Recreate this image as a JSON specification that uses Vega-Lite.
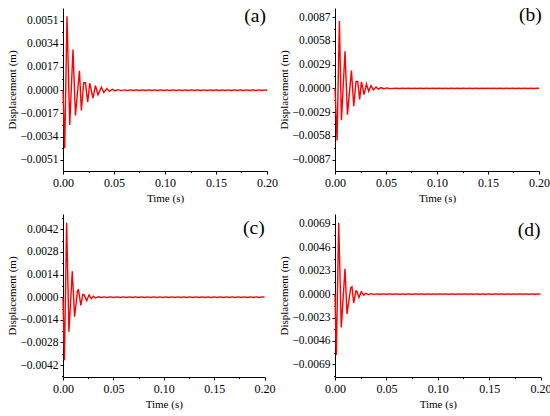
{
  "$schema": "https://vega.github.io/schema/vega-lite/v6.json",
  "background": "white",
  "padding": {"left": 6, "top": 5, "right": 5, "bottom": 5},
  "datasets": {
    "disp": [
      {"p":"a","t":0,"d":0},
      {"p":"a","t":0.0017,"d":-0.00425},
      {"p":"a","t":0.0039,"d":0.00542},
      {"p":"a","t":0.0066,"d":-0.00254},
      {"p":"a","t":0.0098,"d":0.00298},
      {"p":"a","t":0.0122,"d":-0.00185},
      {"p":"a","t":0.0161,"d":0.00142},
      {"p":"a","t":0.018,"d":-0.00149},
      {"p":"a","t":0.0203,"d":0.00054},
      {"p":"a","t":0.022,"d":0.00054},
      {"p":"a","t":0.0242,"d":-0.00088},
      {"p":"a","t":0.0262,"d":0.00051},
      {"p":"a","t":0.0294,"d":-0.00059},
      {"p":"a","t":0.0318,"d":0.00034},
      {"p":"a","t":0.0343,"d":-0.00034},
      {"p":"a","t":0.0376,"d":0.00022},
      {"p":"a","t":0.04,"d":-0.00017},
      {"p":"a","t":0.043,"d":0.00012},
      {"p":"a","t":0.0455,"d":-0.00009},
      {"p":"a","t":0.0485,"d":0.00007},
      {"p":"a","t":0.051,"d":-0.00005},
      {"p":"a","t":0.054,"d":0.00004},
      {"p":"a","t":0.057,"d":-0.00003},

      {"p":"b","t":0,"d":0},
      {"p":"b","t":0.002,"d":-0.00636},
      {"p":"b","t":0.0043,"d":0.0082},
      {"p":"b","t":0.0063,"d":-0.0039},
      {"p":"b","t":0.0098,"d":0.00453},
      {"p":"b","t":0.0122,"d":-0.00322},
      {"p":"b","t":0.0161,"d":0.00216},
      {"p":"b","t":0.0184,"d":-0.0022},
      {"p":"b","t":0.0206,"d":0.00082},
      {"p":"b","t":0.0223,"d":0.00082},
      {"p":"b","t":0.0242,"d":-0.00135},
      {"p":"b","t":0.0259,"d":0.00078},
      {"p":"b","t":0.0285,"d":-0.00077},
      {"p":"b","t":0.0308,"d":0.00053},
      {"p":"b","t":0.0331,"d":-0.00037},
      {"p":"b","t":0.0353,"d":0.00033},
      {"p":"b","t":0.0376,"d":-0.0002},
      {"p":"b","t":0.0402,"d":0.00015},
      {"p":"b","t":0.0425,"d":-0.0001},
      {"p":"b","t":0.045,"d":0.00008},
      {"p":"b","t":0.048,"d":-0.00006},
      {"p":"b","t":0.051,"d":0.00005},
      {"p":"b","t":0.054,"d":-0.00004},

      {"p":"c","t":0,"d":0},
      {"p":"c","t":0.0014,"d":-0.0039},
      {"p":"c","t":0.0036,"d":0.00461},
      {"p":"c","t":0.0059,"d":-0.00214},
      {"p":"c","t":0.0092,"d":0.00161},
      {"p":"c","t":0.0115,"d":-0.00121},
      {"p":"c","t":0.0144,"d":0.00041},
      {"p":"c","t":0.0154,"d":0.00046},
      {"p":"c","t":0.0177,"d":-0.0005},
      {"p":"c","t":0.0196,"d":0.00017},
      {"p":"c","t":0.021,"d":0.00014},
      {"p":"c","t":0.0235,"d":-0.00022},
      {"p":"c","t":0.0259,"d":0.00015},
      {"p":"c","t":0.028,"d":-0.00009},
      {"p":"c","t":0.0302,"d":0.00006},
      {"p":"c","t":0.0325,"d":-0.00005},
      {"p":"c","t":0.035,"d":0.00003},
      {"p":"c","t":0.038,"d":-0.00002},
      {"p":"c","t":0.041,"d":0.00002},
      {"p":"c","t":0.044,"d":-0.00002},
      {"p":"c","t":0.047,"d":0.00002},
      {"p":"c","t":0.05,"d":-0.00002},
      {"p":"c","t":0.054,"d":0.00002},
      {"p":"c","t":0.057,"d":-0.00002},

      {"p":"d","t":0,"d":0},
      {"p":"d","t":0.0013,"d":-0.00597},
      {"p":"d","t":0.0036,"d":0.00698},
      {"p":"d","t":0.0061,"d":-0.00328},
      {"p":"d","t":0.0097,"d":0.00249},
      {"p":"d","t":0.0117,"d":-0.00194},
      {"p":"d","t":0.0153,"d":0.00062},
      {"p":"d","t":0.0165,"d":0.00072},
      {"p":"d","t":0.0182,"d":-0.00086},
      {"p":"d","t":0.0204,"d":0.00032},
      {"p":"d","t":0.0215,"d":0.00025},
      {"p":"d","t":0.0233,"d":-0.00033},
      {"p":"d","t":0.0256,"d":0.00023},
      {"p":"d","t":0.028,"d":-0.0001},
      {"p":"d","t":0.03,"d":0.00008},
      {"p":"d","t":0.0325,"d":-0.00005},
      {"p":"d","t":0.035,"d":0.00004},
      {"p":"d","t":0.038,"d":-0.00003},
      {"p":"d","t":0.041,"d":0.00002},
      {"p":"d","t":0.044,"d":-0.00002},
      {"p":"d","t":0.047,"d":0.00002},
      {"p":"d","t":0.05,"d":-0.00002},
      {"p":"d","t":0.054,"d":0.00002},
      {"p":"d","t":0.057,"d":-0.00002},

      {"p":"all","t":0.060,"d":0.00002},
      {"p":"all","t":0.063,"d":-0.00002},
      {"p":"all","t":0.066,"d":0.00002},
      {"p":"all","t":0.069,"d":-0.00002},
      {"p":"all","t":0.072,"d":0.00002},
      {"p":"all","t":0.075,"d":-0.00002},
      {"p":"all","t":0.078,"d":0.00002},
      {"p":"all","t":0.081,"d":-0.00002},
      {"p":"all","t":0.084,"d":0.00002},
      {"p":"all","t":0.087,"d":-0.00002},
      {"p":"all","t":0.090,"d":0.00002},
      {"p":"all","t":0.093,"d":-0.00002},
      {"p":"all","t":0.096,"d":0.00002},
      {"p":"all","t":0.099,"d":-0.00002},
      {"p":"all","t":0.102,"d":0.00002},
      {"p":"all","t":0.105,"d":-0.00002},
      {"p":"all","t":0.108,"d":0.00002},
      {"p":"all","t":0.111,"d":-0.00002},
      {"p":"all","t":0.114,"d":0.00002},
      {"p":"all","t":0.117,"d":-0.00002},
      {"p":"all","t":0.120,"d":0.00002},
      {"p":"all","t":0.123,"d":-0.00002},
      {"p":"all","t":0.126,"d":0.00002},
      {"p":"all","t":0.129,"d":-0.00002},
      {"p":"all","t":0.132,"d":0.00002},
      {"p":"all","t":0.135,"d":-0.00002},
      {"p":"all","t":0.138,"d":0.00002},
      {"p":"all","t":0.141,"d":-0.00002},
      {"p":"all","t":0.144,"d":0.00002},
      {"p":"all","t":0.147,"d":-0.00002},
      {"p":"all","t":0.150,"d":0.00002},
      {"p":"all","t":0.153,"d":-0.00002},
      {"p":"all","t":0.156,"d":0.00002},
      {"p":"all","t":0.159,"d":-0.00002},
      {"p":"all","t":0.162,"d":0.00002},
      {"p":"all","t":0.165,"d":-0.00002},
      {"p":"all","t":0.168,"d":0.00002},
      {"p":"all","t":0.171,"d":-0.00002},
      {"p":"all","t":0.174,"d":0.00002},
      {"p":"all","t":0.177,"d":-0.00002},
      {"p":"all","t":0.180,"d":0.00002},
      {"p":"all","t":0.183,"d":-0.00002},
      {"p":"all","t":0.186,"d":0.00002},
      {"p":"all","t":0.189,"d":-0.00002},
      {"p":"all","t":0.192,"d":0.00002},
      {"p":"all","t":0.195,"d":-0.00002},
      {"p":"all","t":0.198,"d":0.00002},
      {"p":"all","t":0.200,"d":0}
    ],
    "lab": [
      {"p":"a","t":0.1884,"d":0.00547,"l":"(a)"},
      {"p":"b","t":0.1915,"d":0.00893,"l":"(b)"},
      {"p":"c","t":0.1894,"d":0.0043,"l":"(c)"},
      {"p":"d","t":0.189,"d":0.00632,"l":"(d)"}
    ]
  },
  "config": {
    "font": "Liberation Serif",
    "view": {"stroke": null},
    "axis": {
      "grid": false,
      "labelFont": "Liberation Serif",
      "labelFontSize": 11.5,
      "labelColor": "black",
      "titleFont": "Liberation Serif",
      "titleFontSize": 11,
      "titleFontWeight": "normal",
      "titleColor": "black",
      "domainColor": "black",
      "domainWidth": 1,
      "tickColor": "black",
      "tickWidth": 1,
      "labelFlush": false,
      "labelOverlap": false,
      "labelPadding": 2
    },
    "axisX": {"titlePadding": 4, "labelPadding": 3, "labelFontSize": 12, "titleFontWeight": "normal"},
    "axisY": {"titlePadding": 2, "titleFontWeight": "normal"}
  },
  "spacing": 9,
  "vconcat": [
    {
      "spacing": 0,
      "hconcat": [
        {
          "width": 204, "height": 163,
          "encoding": {
            "x": {"field": "t", "type": "quantitative", "scale": {"domain": [0, 0.2], "nice": false},
              "axis": {"title": "Time (s)", "format": ".2f", "titleFontWeight": "normal",
                "values": [0,0.025,0.05,0.075,0.1,0.125,0.15,0.175,0.2],
                "labelExpr": "abs(datum.value*20 - round(datum.value*20)) < 0.01 ? datum.label : ''",
                "tickSize": {"condition": {"test": "abs(datum.value*20 - round(datum.value*20)) < 0.01", "value": 3}, "value": 1.5}}},
            "y": {"field": "d", "type": "quantitative", "scale": {"domain": [-0.00592, 0.00602], "nice": false, "zero": false},
              "axis": {"title": "Displacement (m)", "format": ".4f", "titleFontWeight": "normal",
                "values": [-0.0051,-0.00425,-0.0034,-0.00255,-0.0017,-0.00085,0,0.00085,0.0017,0.00255,0.0034,0.00425,0.0051],
                "labelExpr": "abs(datum.value/0.0017 - round(datum.value/0.0017)) < 0.01 ? datum.label : ''",
                "tickSize": {"condition": {"test": "abs(datum.value/0.0017 - round(datum.value/0.0017)) < 0.01", "value": 3}, "value": 1.5}}}
          },
          "layer": [
            {"data": {"name": "disp"}, "transform": [{"filter": "datum.p == 'a' || datum.p == 'all'"}],
             "mark": {"type": "line", "color": "#ff0000", "strokeWidth": 1.4}},
            {"data": {"name": "lab"}, "transform": [{"filter": "datum.p == 'a'"}],
             "mark": {"type": "text", "fontSize": 19.5, "font": "Liberation Serif", "color": "black", "align": "center", "baseline": "middle"},
             "encoding": {"text": {"field": "l"}}}
          ]
        },
        {
          "width": 204, "height": 163,
          "encoding": {
            "x": {"field": "t", "type": "quantitative", "scale": {"domain": [0, 0.2], "nice": false},
              "axis": {"title": "Time (s)", "format": ".2f", "titleFontWeight": "normal",
                "values": [0,0.025,0.05,0.075,0.1,0.125,0.15,0.175,0.2],
                "labelExpr": "abs(datum.value*20 - round(datum.value*20)) < 0.01 ? datum.label : ''",
                "tickSize": {"condition": {"test": "abs(datum.value*20 - round(datum.value*20)) < 0.01", "value": 3}, "value": 1.5}}},
            "y": {"field": "d", "type": "quantitative", "scale": {"domain": [-0.0101, 0.0098], "nice": false, "zero": false},
              "axis": {"title": "Displacement (m)", "format": ".4f", "titleFontWeight": "normal",
                "values": [-0.0087,-0.00725,-0.0058,-0.00435,-0.0029,-0.00145,0,0.00145,0.0029,0.00435,0.0058,0.00725,0.0087],
                "labelExpr": "abs(datum.value/0.0029 - round(datum.value/0.0029)) < 0.01 ? datum.label : ''",
                "tickSize": {"condition": {"test": "abs(datum.value/0.0029 - round(datum.value/0.0029)) < 0.01", "value": 3}, "value": 1.5}}}
          },
          "layer": [
            {"data": {"name": "disp"}, "transform": [{"filter": "datum.p == 'b' || datum.p == 'all'"}],
             "mark": {"type": "line", "color": "#ff0000", "strokeWidth": 1.4}},
            {"data": {"name": "lab"}, "transform": [{"filter": "datum.p == 'b'"}],
             "mark": {"type": "text", "fontSize": 19.5, "font": "Liberation Serif", "color": "black", "align": "center", "baseline": "middle"},
             "encoding": {"text": {"field": "l"}}}
          ]
        }
      ]
    },
    {
      "spacing": 3,
      "hconcat": [
        {
          "width": 201.5, "height": 163,
          "encoding": {
            "x": {"field": "t", "type": "quantitative", "scale": {"domain": [0, 0.2], "nice": false},
              "axis": {"title": "Time (s)", "format": ".2f", "titleFontWeight": "normal",
                "values": [0,0.025,0.05,0.075,0.1,0.125,0.15,0.175,0.2],
                "labelExpr": "abs(datum.value*20 - round(datum.value*20)) < 0.01 ? datum.label : ''",
                "tickSize": {"condition": {"test": "abs(datum.value*20 - round(datum.value*20)) < 0.01", "value": 3}, "value": 1.5}}},
            "y": {"field": "d", "type": "quantitative", "scale": {"domain": [-0.00494, 0.00515], "nice": false, "zero": false},
              "axis": {"title": "Displacement (m)", "format": ".4f", "titleFontWeight": "normal",
                "values": [-0.0049,-0.0042,-0.0035,-0.0028,-0.0021,-0.0014,-0.0007,0,0.0007,0.0014,0.0021,0.0028,0.0035,0.0042,0.0049],
                "labelExpr": "abs(datum.value/0.0014 - round(datum.value/0.0014)) < 0.01 ? datum.label : ''",
                "tickSize": {"condition": {"test": "abs(datum.value/0.0014 - round(datum.value/0.0014)) < 0.01", "value": 3}, "value": 1.5}}}
          },
          "layer": [
            {"data": {"name": "disp"}, "transform": [{"filter": "datum.p == 'c' || datum.p == 'all'"}],
             "mark": {"type": "line", "color": "#ff0000", "strokeWidth": 1.4}},
            {"data": {"name": "lab"}, "transform": [{"filter": "datum.p == 'c'"}],
             "mark": {"type": "text", "fontSize": 19.5, "font": "Liberation Serif", "color": "black", "align": "center", "baseline": "middle"},
             "encoding": {"text": {"field": "l"}}}
          ]
        },
        {
          "width": 205.5, "height": 163,
          "encoding": {
            "x": {"field": "t", "type": "quantitative", "scale": {"domain": [0, 0.2], "nice": false},
              "axis": {"title": "Time (s)", "format": ".2f", "titleFontWeight": "normal",
                "values": [0,0.025,0.05,0.075,0.1,0.125,0.15,0.175,0.2],
                "labelExpr": "abs(datum.value*20 - round(datum.value*20)) < 0.01 ? datum.label : ''",
                "tickSize": {"condition": {"test": "abs(datum.value*20 - round(datum.value*20)) < 0.01", "value": 3}, "value": 1.5}}},
            "y": {"field": "d", "type": "quantitative", "scale": {"domain": [-0.00813, 0.00785], "nice": false, "zero": false},
              "axis": {"title": "Displacement (m)", "format": ".4f", "titleFontWeight": "normal",
                "values": [-0.00805,-0.0069,-0.00575,-0.0046,-0.00345,-0.0023,-0.00115,0,0.00115,0.0023,0.00345,0.0046,0.00575,0.0069],
                "labelExpr": "abs(datum.value/0.0023 - round(datum.value/0.0023)) < 0.01 ? datum.label : ''",
                "tickSize": {"condition": {"test": "abs(datum.value/0.0023 - round(datum.value/0.0023)) < 0.01", "value": 3}, "value": 1.5}}}
          },
          "layer": [
            {"data": {"name": "disp"}, "transform": [{"filter": "datum.p == 'd' || datum.p == 'all'"}],
             "mark": {"type": "line", "color": "#ff0000", "strokeWidth": 1.4}},
            {"data": {"name": "lab"}, "transform": [{"filter": "datum.p == 'd'"}],
             "mark": {"type": "text", "fontSize": 19.5, "font": "Liberation Serif", "color": "black", "align": "center", "baseline": "middle"},
             "encoding": {"text": {"field": "l"}}}
          ]
        }
      ]
    }
  ]
}
